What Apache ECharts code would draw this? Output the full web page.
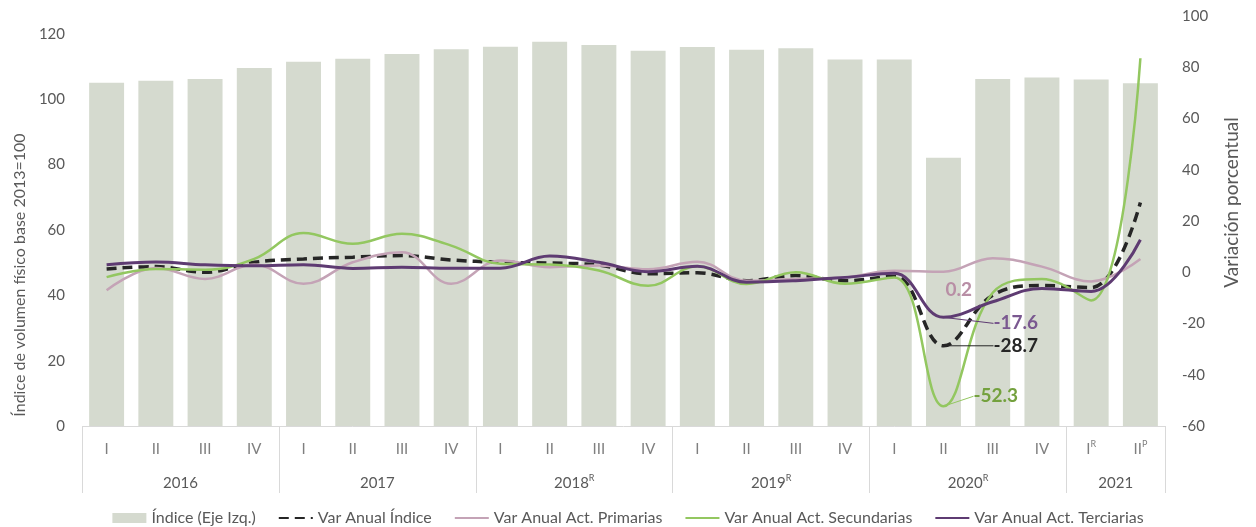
<!DOCTYPE html>
<html>
<head>
<meta charset="utf-8">
<script src="https://cdn.jsdelivr.net/npm/echarts@6/dist/echarts.min.js"></script>
<style>
html, body { margin: 0; padding: 0; background: #fff; }
#chart { width: 1256px; height: 527px; }
</style>
</head>
<body>
<div id="chart"></div>
<script>
// trimestres (el "^" marca el superíndice) y años del eje inferior
const quarters = ['I', 'II', 'III', 'IV', 'I', 'II', 'III', 'IV', 'I', 'II', 'III', 'IV',
    'I', 'II', 'III', 'IV', 'I', 'II', 'III', 'IV', 'I^R', 'II^P'];
const years = ['2016', '2017', '2018^R', '2019^R', '2020^R', '2021'];
const quartersPerYear = [4, 4, 4, 4, 4, 2];

// Índice (eje izq.)
const indice = [105.1, 105.7, 106.2, 109.6, 111.5, 112.4, 113.9, 115.3, 116.1, 117.6, 116.6, 114.9,
    116.0, 115.2, 115.6, 112.2, 112.2, 82.1, 106.2, 106.7, 106.1, 104.9];
// variaciones anuales (eje der.)
const varIndice = [1.3, 2.2, 0.0, 3.9, 5.2, 5.9, 6.5, 4.8, 3.9, 3.6, 2.8, -0.6,
    -0.2, -3.3, -1.3, -3.3, -1.6, -28.7, -9.0, -5.2, -6.0, 27.2];
const primarias = [-7.0, 1.7, -2.6, 3.0, -4.5, 3.9, 7.8, -4.5, 4.6, 2.0, 2.6, 1.2,
    4.1, -3.3, -2.6, -2.0, 0.6, 0.2, 5.5, 2.2, -3.6, 5.2];
const secundarias = [-1.9, 1.3, 1.0, 5.2, 15.3, 11.1, 15.0, 10.4, 3.3, 3.0, 0.7, -5.3,
    2.3, -4.6, 0.0, -4.5, -2.0, -52.3, -8.0, -2.6, -11.0, 83.5];
const terciarias = [2.9, 4.0, 2.9, 2.5, 2.9, 1.5, 2.0, 1.6, 1.6, 6.3, 3.9, 0.2,
    2.3, -3.9, -3.3, -2.0, -0.4, -17.6, -11.5, -6.3, -7.5, 12.7];

const labelIndex = 17; // 2020 II

const FONT = 'Lato';
const GRAY = '#595959';
const LINE_GRAY = '#d9d9d9';
const NONE = 'rgba(0,0,0,0)';

// límites y centros de cada año sobre el eje de valores auxiliar
const yearBounds = [0];
quartersPerYear.forEach(n => yearBounds.push(yearBounds[yearBounds.length - 1] + n));
const yearCenters = quartersPerYear.map((n, i) => yearBounds[i] + n / 2);

function supText(s, main) {
    const parts = s.split('^');
    return parts.length > 1 ? `{${main}|${parts[0]}}{s|${parts[1]}}` : `{${main}|${parts[0]}}`;
}

const chart = echarts.init(document.getElementById('chart'));

function lineSeries(name, data, color, width, dash, labelColor, dx, dy, guide) {
    return {
        name: name,
        type: 'line',
        yAxisIndex: 1,
        smooth: 0.4,
        symbol: 'circle',
        symbolSize: 0,
        showSymbol: true,
        lineStyle: { color: color, width: width, type: dash || 'solid' },
        itemStyle: { color: color },
        label: { show: false },
        labelLine: { show: guide, lineStyle: { color: color, width: 1 } },
        labelLayout: function (p) { return p.dataIndex === labelIndex ? { dx: dx, dy: dy } : {}; },
        data: data.map((v, i) => i === labelIndex ? {
            value: v,
            label: {
                show: true, position: 'right', distance: 4,
                fontFamily: FONT, fontSize: 19, fontWeight: 'bold', color: labelColor
            }
        } : v),
        z: 3
    };
}

const option = {
    animation: false,
    textStyle: { fontFamily: FONT },
    grid: { left: 82, right: 91, top: 16, bottom: 101 },
    legend: {
        top: 505,
        left: 'center',
        itemWidth: 34,
        itemHeight: 10,
        itemGap: 22,
        textStyle: { fontFamily: FONT, fontSize: 16, color: GRAY },
        data: [
            { name: 'Índice (Eje Izq.)', icon: 'rect' },
            { name: 'Var Anual Índice', itemStyle: { opacity: 0 } },
            { name: 'Var Anual Act. Primarias', itemStyle: { opacity: 0 } },
            { name: 'Var Anual Act. Secundarias', itemStyle: { opacity: 0 } },
            { name: 'Var Anual Act. Terciarias', itemStyle: { opacity: 0 } }
        ]
    },
    xAxis: [{
        type: 'category',
        position: 'bottom',
        data: quarters,
        boundaryGap: true,
        axisLine: { show: false, onZero: false },
        axisTick: { show: false },
        axisLabel: {
            margin: 14,
            interval: 0,
            formatter: v => supText(v, 'q'),
            rich: {
                q: { fontFamily: FONT, fontSize: 15, color: '#7f7f7f', lineHeight: 18 },
                s: { fontFamily: FONT, fontSize: 9, color: '#7f7f7f', verticalAlign: 'top', lineHeight: 10 }
            }
        },
        splitLine: { show: false }
    }, {
        type: 'value',
        position: 'bottom',
        min: 0,
        max: quarters.length,
        axisLine: { show: false, onZero: false },
        axisTick: {
            show: true, length: 67, customValues: yearBounds,
            lineStyle: { color: LINE_GRAY, width: 1 }
        },
        axisLabel: {
            margin: 48,
            customValues: yearCenters,
            formatter: v => supText(years[yearCenters.indexOf(v)] || '', 'y'),
            rich: {
                y: { fontFamily: FONT, fontSize: 15, color: GRAY, lineHeight: 18 },
                s: { fontFamily: FONT, fontSize: 9, color: GRAY, verticalAlign: 'top', lineHeight: 10 }
            }
        },
        splitLine: { show: false }
    }],
    yAxis: [{
        type: 'value',
        min: 0,
        max: 125.5,
        interval: 20,
        name: 'Índice de volumen físico base 2013=100',
        nameLocation: 'middle',
        nameRotate: 90,
        nameGap: 44,
        nameTextStyle: { fontFamily: FONT, fontSize: 16, color: GRAY, padding: [0, 108, 0, 0] },
        axisLine: { show: false },
        axisTick: { show: false },
        axisLabel: { margin: 17, fontFamily: FONT, fontSize: 15, color: GRAY, showMaxLabel: false },
        // sólo la línea del cero hace de línea base del eje de categorías
        splitLine: {
            show: true,
            lineStyle: { width: 1, color: [LINE_GRAY, NONE, NONE, NONE, NONE, NONE, NONE, NONE] }
        }
    }, {
        type: 'value',
        min: -60,
        max: 100,
        interval: 20,
        name: 'Variación porcentual',
        nameLocation: 'middle',
        nameRotate: 90,
        nameGap: 57,
        nameTextStyle: { fontFamily: FONT, fontSize: 19, color: GRAY, padding: [0, 0, 0, 37] },
        axisLine: { show: false },
        axisTick: { show: false },
        axisLabel: { margin: 17, fontFamily: FONT, fontSize: 15, color: GRAY },
        splitLine: { show: false }
    }],
    series: [
        {
            name: 'Índice (Eje Izq.)',
            type: 'bar',
            yAxisIndex: 0,
            barWidth: '71%',
            itemStyle: { color: '#d5dacf' },
            data: indice,
            z: 1
        },
        lineSeries('Var Anual Índice', varIndice, '#262626', 3.5, [10, 6], '#262626', 46, 0, true),
        lineSeries('Var Anual Act. Primarias', primarias, '#c4a3b6', 2.5, null, '#b88ea5', -2, 18, false),
        lineSeries('Var Anual Act. Secundarias', secundarias, '#93c760', 2.5, null, '#74a13e', 26, -10, true),
        lineSeries('Var Anual Act. Terciarias', terciarias, '#5e3b72', 3, null, '#7a5890', 46, 6, true)
    ]
};

chart.setOption(option);
</script>
</body>
</html>
